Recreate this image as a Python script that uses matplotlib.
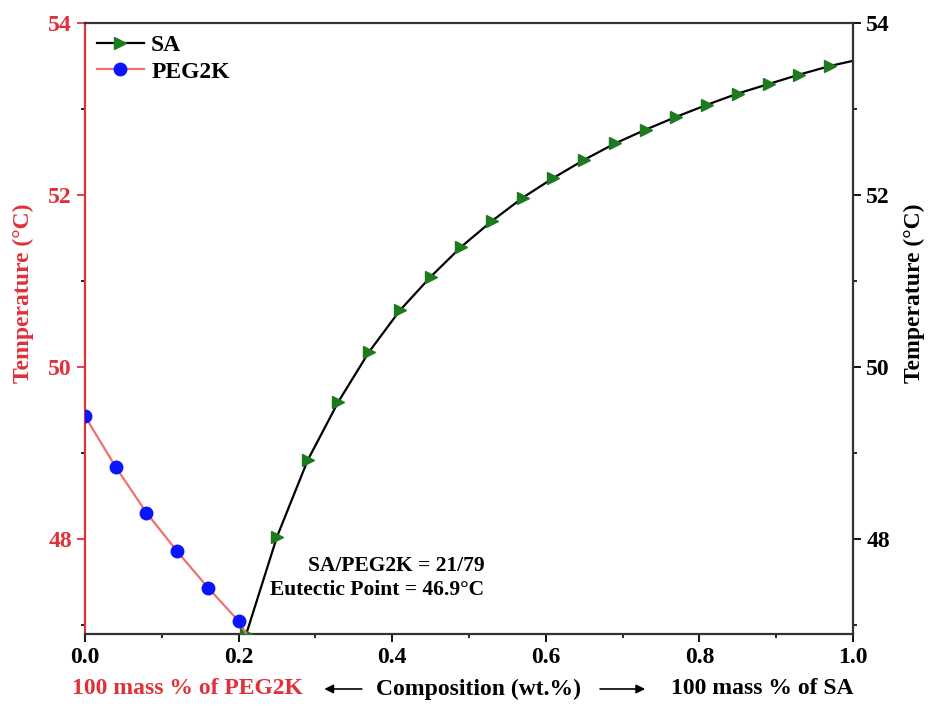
import matplotlib.pyplot as plt
from matplotlib.ticker import MultipleLocator

plt.rcParams['font.family'] = ['Liberation Serif', 'DejaVu Serif']
plt.rcParams['font.weight'] = 'bold'

# SA branch (markers at 0.21..0.97, line runs on to 1.0)
sa_x = [0.21, 0.25, 0.29, 0.33, 0.37, 0.41, 0.45, 0.49, 0.53, 0.57,
        0.61, 0.65, 0.69, 0.73, 0.77, 0.81, 0.85, 0.89, 0.93, 0.97, 1.0]
sa_t = [46.9, 48.03, 48.92, 49.60, 50.18, 50.66, 51.05, 51.40, 51.70, 51.97,
        52.20, 52.41, 52.60, 52.76, 52.91, 53.05, 53.18, 53.29, 53.40, 53.50, 53.56]

# PEG2K branch (markers at 0..0.2, line runs to eutectic point)
peg_x = [0.0, 0.04, 0.08, 0.12, 0.16, 0.20, 0.21]
peg_t = [49.43, 48.84, 48.31, 47.86, 47.44, 47.05, 46.9]

xticks = [0.0, 0.2, 0.4, 0.6, 0.8, 1.0]
yticks = [48, 50, 52, 54]

red = '#e0303a'
green = '#1e7a1e'

fig = plt.figure(figsize=(9.3, 7.11), dpi=100)
ax = fig.add_axes([0.0914, 0.1083, 0.8258, 0.8594])

ax.plot(sa_x, sa_t, color='black', lw=1.6, marker='>', markersize=9,
        markerfacecolor=green, markeredgecolor=green,
        markevery=list(range(len(sa_x) - 1)), label='SA', zorder=3)
ax.plot(peg_x, peg_t, color='#f07070', lw=1.6, marker='o', markersize=9,
        markerfacecolor='#0a14ff', markeredgecolor='#0a14ff',
        markevery=list(range(len(peg_x) - 1)), label='PEG2K', zorder=3)

ax.set_xlim(0, 1.0)
ax.set_ylim(46.9, 54)
ax.set_xticks(xticks)
ax.set_yticks(yticks)
ax.xaxis.set_minor_locator(MultipleLocator(0.1))
ax.yaxis.set_minor_locator(MultipleLocator(1))
ax.tick_params(axis='both', which='major', direction='out', length=6, width=1.3, labelsize=17)
ax.tick_params(axis='both', which='minor', direction='out', length=3, width=1.2)
ax.tick_params(axis='y', colors=red, labelcolor=red)
for lab in ax.get_xticklabels() + ax.get_yticklabels():
    lab.set_fontweight('bold')

for s in ['top', 'bottom']:
    ax.spines[s].set_color('#333333')
    ax.spines[s].set_linewidth(1.6)
ax.spines['left'].set_color(red)
ax.spines['left'].set_linewidth(1.6)
ax.spines['right'].set_visible(False)

ax.set_ylabel('Temperature (°C)', color=red, fontsize=17, fontweight='bold',
              labelpad=10, y=0.557)

ax2 = ax.twinx()
ax2.set_ylim(ax.get_ylim())
ax2.set_yticks(yticks)
ax2.yaxis.set_minor_locator(MultipleLocator(1))
ax2.tick_params(axis='y', which='major', direction='out', length=6, width=1.3, labelsize=17, colors='black')
ax2.tick_params(axis='y', which='minor', direction='out', length=3, width=1.2, colors='black')
for lab in ax2.get_yticklabels():
    lab.set_fontweight('bold')
for s in ['top', 'bottom', 'left']:
    ax2.spines[s].set_visible(False)
ax2.spines['right'].set_color('#333333')
ax2.spines['right'].set_linewidth(1.6)
ax2.set_ylabel('Temperature (°C)', color='black', fontsize=17, fontweight='bold',
               labelpad=10, y=0.557)

leg = ax.legend(loc='upper left', frameon=False, fontsize=17, handlelength=2.0,
                borderaxespad=0.1, handletextpad=0.3, labelspacing=0.2)
for t in leg.get_texts():
    t.set_fontweight('bold')

ax.text(0.52, 47.55, 'SA/PEG2K = 21/79\nEutectic Point = 46.9°C', ha='right', va='center',
        fontsize=15.5, fontweight='bold', multialignment='right', linespacing=1.25)

# composite x label
ylab = -0.09
ax.text(0.133, ylab, '100 mass % of PEG2K', transform=ax.transAxes, ha='center', va='center',
        color=red, fontsize=17, fontweight='bold')
ax.text(0.512, ylab, 'Composition (wt.%)', transform=ax.transAxes, ha='center', va='center',
        color='black', fontsize=17, fontweight='bold')
ax.text(0.882, ylab, '100 mass % of SA', transform=ax.transAxes, ha='center', va='center',
        color='black', fontsize=17, fontweight='bold')
arrow = dict(arrowstyle='-|>', color='black', lw=1.2, mutation_scale=13)
ax.annotate('', xy=(0.308, ylab), xytext=(0.364, ylab), xycoords='axes fraction',
            textcoords='axes fraction', arrowprops=arrow)
ax.annotate('', xy=(0.733, ylab), xytext=(0.667, ylab), xycoords='axes fraction',
            textcoords='axes fraction', arrowprops=arrow)

fig.savefig('out.png', dpi=100)
